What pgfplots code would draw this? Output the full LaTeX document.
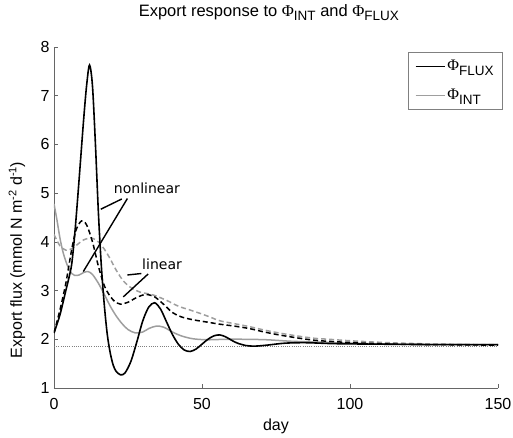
\documentclass[border=0pt]{standalone}
\usepackage{fontspec}
\setmainfont{Liberation Sans}
\newfontfamily\notefont{DejaVu Sans}
\newfontfamily\symfont{Liberation Serif}
\usepackage{pgfplots}
\pgfplotsset{compat=1.18}

\definecolor{intgray}{gray}{0.62}
\definecolor{axgray}{gray}{0.4}

% Phi with a lowered subscript, as used in the title and legend
\newcommand{\Phisub}[1]{{\symfont Φ}\raisebox{-4.5bp}{\fontsize{13.5bp}{15bp}\selectfont #1}}
\newcommand{\lab}{\fontsize{16bp}{18bp}\selectfont}

% Flux-driven export, nonlinear model
\pgfplotstableread{
day  v
0    2.13
2    2.50
4    3.00
5    3.25
6    3.55
7    4.15
8    4.90
9    5.70
10   6.50
11   7.20
12   7.63
13   7.20
14   6.00
15   4.60
16   3.50
17   2.70
18   2.10
19   1.72
20   1.47
21   1.34
22.5 1.27
24   1.31
26   1.55
28   1.95
30   2.38
32   2.66
34   2.75
36   2.62
38   2.36
40   2.10
42   1.90
44   1.78
46   1.75
48   1.80
50   1.90
52   2.00
54   2.07
56   2.09
58   2.05
60   1.98
62   1.92
65   1.87
68   1.86
72   1.88
78   1.92
85   1.93
95   1.91
110  1.90
130  1.89
150  1.89
}\fluxnl

% Flux-driven export, linear model
\pgfplotstableread{
day  v
0    2.13
2    2.60
4    3.15
6    3.85
7.5  4.25
9.3  4.43
11   4.35
13   4.00
15   3.50
17   3.10
19   2.88
21   2.75
22.5 2.72
25   2.76
28   2.86
31   2.92
34   2.87
37   2.72
40   2.55
43   2.46
47   2.40
52   2.35
56   2.31
61   2.27
66   2.22
71   2.15
76   2.09
82   2.03
88   1.98
95   1.95
105  1.92
115  1.90
130  1.89
150  1.88
}\fluxlin

% Integral-driven export, nonlinear model
\pgfplotstableread{
day  v
0    4.78
1    4.45
2    4.08
3    3.80
4    3.60
5    3.45
6    3.35
7    3.31
8.5  3.32
10   3.37
11.5 3.39
13   3.33
15   3.15
17   2.92
19   2.68
21   2.48
23   2.32
25   2.20
27.5 2.13
30   2.15
32   2.22
34.5 2.27
37   2.25
40   2.15
43   2.07
47   2.01
52   1.99
58   2.00
65   2.00
72   1.99
80   1.96
90   1.94
100  1.92
120  1.90
150  1.89
}\intnl

% Integral-driven export, linear model
\pgfplotstableread{
day  v
0    4.15
2    3.92
4    3.83
6    3.86
8    3.95
10   4.04
12.7 4.08
15   4.00
17   3.85
19   3.65
21   3.42
23.4 3.20
26   3.06
29   2.97
33.5 2.91
38   2.80
42   2.68
46   2.60
49   2.54
53   2.45
56   2.38
61   2.32
66   2.26
71   2.19
76   2.13
82   2.07
88   2.02
93   2.00
100  1.97
113  1.93
130  1.90
150  1.89
}\intlin

\begin{document}
\begin{tikzpicture}[font=\lab]
\useasboundingbox (-54bp,-50bp) rectangle (459bp,388bp);
\begin{axis}[
  scale only axis, width=444bp, height=341bp,
  xmin=0, xmax=150, ymin=1, ymax=8,
  axis x line*=bottom, axis y line*=left,
  axis line style={axgray, line width=0.6bp},
  tick style={axgray, line width=0.5bp},
  tick align=inside, major tick length=4bp,
  xtick={0,50,100,150}, ytick={1,2,...,8},
  /pgf/number format/assume math mode=true,
  ticklabel style={font=\lab},
  xticklabel style={anchor=base, yshift=-21bp},
  yticklabel style={anchor=east, xshift=-1bp},
  title={Export response to \Phisub{INT} and \Phisub{FLUX}},
  title style={at={(axis description cs:0.484,1)}, anchor=base, yshift=25bp,
    font=\fontsize{16.5bp}{18bp}\selectfont},
  xlabel={day},
  xlabel style={at={(axis description cs:0.5,0)}, anchor=base, yshift=-42bp},
  ylabel={Export flux (mmol N m\raisebox{5.5bp}{\fontsize{11bp}{12bp}\selectfont -2} d\raisebox{5.5bp}{\fontsize{11bp}{12bp}\selectfont -1})},
  ylabel style={at={(axis description cs:-0.0833,0.375)}, anchor=center},
  legend style={at={(axis description cs:1.011,0.985)}, anchor=north east,
    draw=gray, line width=0.5bp, fill=white,
    inner xsep=7bp, inner ysep=6bp, row sep=13bp,
    font=\lab},
  legend cell align=left,
  legend image code/.code={\draw[#1] (0bp,0bp) -- (29bp,0bp);},
]
% horizontal reference level
\addplot[gray, line width=0.4bp, dash pattern=on 0.6bp off 1.6bp, forget plot]
  coordinates {(0,1.85) (150,1.85)};

\addplot[intgray, line width=1.5bp, dash pattern=on 5bp off 3bp, smooth, forget plot]
  table[x=day, y=v] {\intlin};
\addplot[intgray, line width=1.5bp, smooth, forget plot]
  table[x=day, y=v] {\intnl};
\addplot[black, line width=1.5bp, dash pattern=on 5bp off 3bp, smooth, forget plot]
  table[x=day, y=v] {\fluxlin};
\addplot[black, line width=1.6bp, smooth, forget plot]
  table[x=day, y=v] {\fluxnl};

\addlegendimage{black, line width=1.5bp}
\addlegendentry{\Phisub{FLUX}\hspace{8bp}}
\addlegendimage{intgray, line width=1.5bp}
\addlegendentry{\Phisub{INT}}

% labels pointing at the model variants
\node[font=\notefont\fontsize{14bp}{16bp}\selectfont] at (axis cs:31.4,5.11) {nonlinear};
\draw[line width=1.4bp] (axis cs:24.8,4.89) -- (axis cs:9.9,3.39);
\draw[line width=1.4bp] (axis cs:22.9,4.88) -- (axis cs:15.8,4.67);
\node[font=\notefont\fontsize{14bp}{16bp}\selectfont] at (axis cs:36.5,3.53) {linear};
\draw[line width=1.4bp] (axis cs:31.8,3.34) -- (axis cs:23.4,2.87);
\draw[line width=1.4bp] (axis cs:29.5,3.35) -- (axis cs:24.8,3.32);
\end{axis}
\end{tikzpicture}
\end{document}
